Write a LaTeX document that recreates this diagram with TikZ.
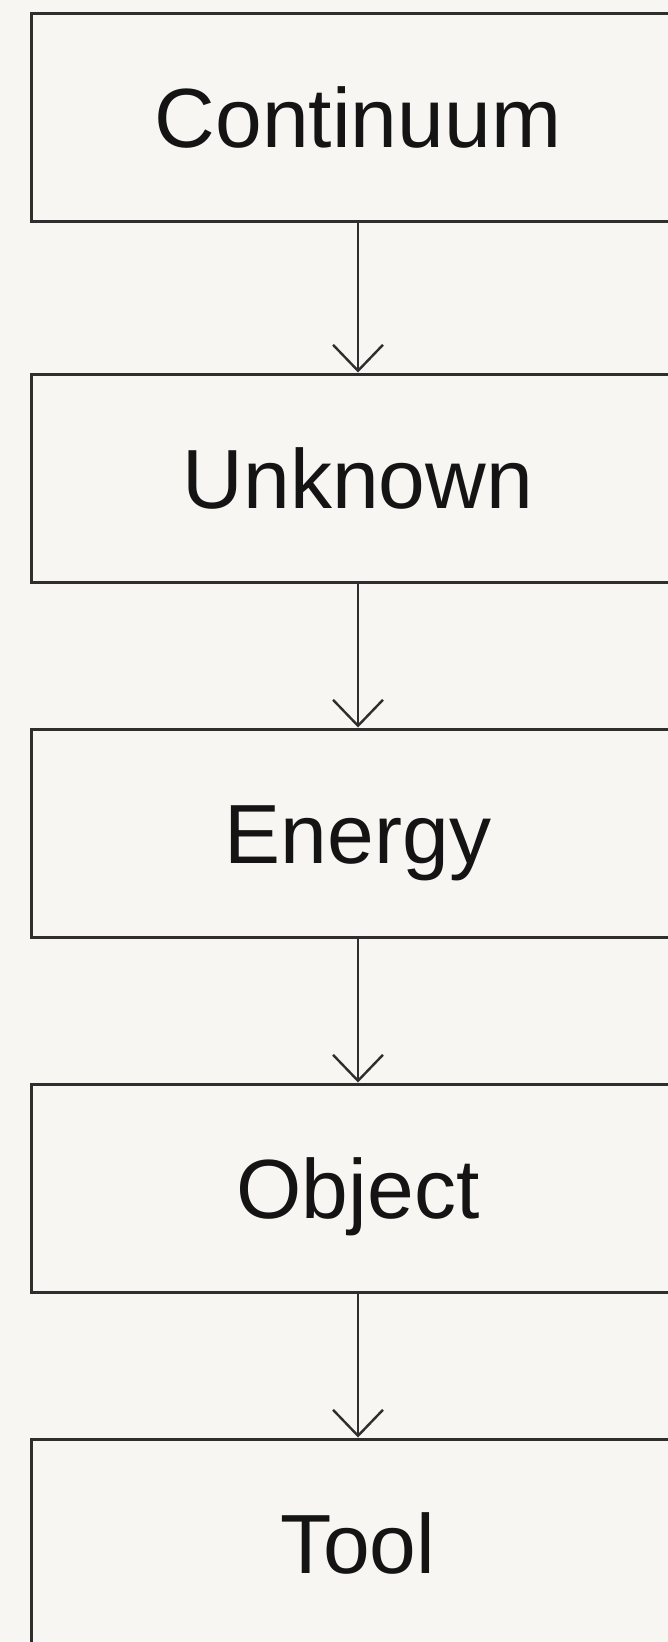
\documentclass[tikz,border=0pt]{standalone}
\usepackage{fontspec}
\setmainfont{Liberation Sans}
\usetikzlibrary{arrows.meta}
\definecolor{paper}{HTML}{F7F6F2}
\definecolor{ink}{HTML}{2E2E2E}
\tikzstyle{stage} = [rectangle, text centered, draw=ink, line width=3pt, minimum width=654pt, minimum height=208pt, text height=60pt, text depth=0pt, font=\fontsize{84}{100}\selectfont, text=black!92]
\tikzstyle{arrow} = [draw=ink, line width=2.4pt, -{Straight Barb[length=26pt,width=50pt,line width=2.4pt]}]

\begin{document}
\begin{tikzpicture}[x=1pt, y=1pt, node distance=355pt]

\clip (0,0) rectangle (668,-1642);
\fill [paper] (0,0) rectangle (668,-1642);

\node (continuum) [stage] at (358,-117) {Continuum};
\node (unknown) [stage, below of=continuum, yshift=-6pt] {Unknown};
\node (energy) [stage, below of=unknown] {Energy};
\node (object) [stage, below of=energy] {Object};
\node (tool) [stage, below of=object] {Tool};

\draw [arrow] (continuum) -- (unknown);
\draw [arrow] (unknown) -- (energy);
\draw [arrow] (energy) -- (object);
\draw [arrow] (object) -- (tool);

\end{tikzpicture}
\end{document}
